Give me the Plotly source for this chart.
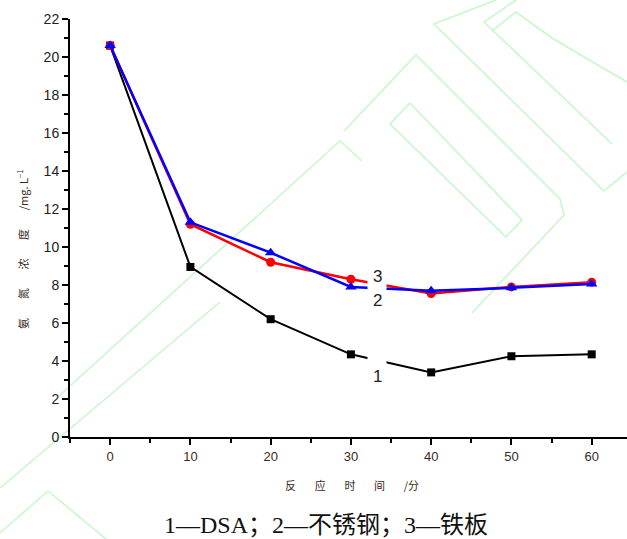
import plotly.graph_objects as go

# reaction time (min)
time_min = [0, 10, 20, 30, 40, 50, 60]

# ammonia-nitrogen concentration (mg/L) for each electrode material
conc_dsa = [20.6, 8.95, 6.2, 4.35, 3.4, 4.25, 4.35]        # 1 — DSA
conc_steel = [20.6, 11.3, 9.7, 7.9, 7.7, 7.85, 8.05]       # 2 — stainless steel
conc_iron = [20.6, 11.2, 9.2, 8.3, 7.55, 7.9, 8.15]        # 3 — iron plate

x_ticks = [0, 10, 20, 30, 40, 50, 60]
y_ticks = [0, 2, 4, 6, 8, 10, 12, 14, 16, 18, 20, 22]

GAP = "\u2003\u2002\u2009"   # wide letter spacing used in the axis titles

W, H = 627, 539
ML, MR, MT, MB = 70, 0, 19, 102
PW, PH = W - ML - MR, H - MT - MB


def to_paper(px, py):
    """Convert page pixels to paper coordinates."""
    return (px - ML) / PW, (H - MB - py) / PH


fig = go.Figure()

# faint green outline watermark in the background
watermark = [
    [(60, 395), (340, 141), (362, 161)],
    [(0, 488), (220, 302)],
    [(48, 491), (106, 539)],
    [(48, 491), (0, 533)],
    [(496, 0), (434, 24), (604, 191), (627, 172)],
    [(516, 0), (484, 22), (612, 144)],
    [(344, 131), (416, 55), (560, 199), (564, 215), (472, 313)],
    [(410, 103), (390, 124), (506, 237), (522, 220), (410, 103)],
    [(492, 31), (516, 12), (552, 38), (596, 64), (627, 82)],
]
for poly in watermark:
    pts = [to_paper(px, py) for px, py in poly]
    path = "M " + " L ".join(f"{x:.4f},{y:.4f}" for x, y in pts)
    fig.add_shape(type="path", path=path, xref="paper", yref="paper",
                  line=dict(color="#c9f7c9", width=1.6), layer="below")

fig.add_trace(go.Scatter(
    x=time_min, y=conc_dsa, mode="lines+markers",
    line=dict(color="black", width=2),
    marker=dict(symbol="square", size=8, color="black"),
))
fig.add_trace(go.Scatter(
    x=time_min, y=conc_iron, mode="lines+markers",
    line=dict(color="#ff0000", width=2.5),
    marker=dict(symbol="circle", size=9, color="#ff0000"),
))
fig.add_trace(go.Scatter(
    x=time_min, y=conc_steel, mode="lines+markers",
    line=dict(color="#0000ff", width=2.5),
    marker=dict(symbol="triangle-up", size=10, color="#0000ff"),
))

# white breaks in the curves next to the curve labels
for yv, h in [(3.95, 14), (8.05, 22)]:
    fig.add_annotation(
        x=33.25, y=yv, text="", showarrow=False, width=18, height=h,
        bgcolor="white", borderpad=0,
    )

# curve labels
for txt, yv in [("3", 8.47), ("2", 7.16), ("1", 3.2)]:
    fig.add_annotation(
        x=33.3, y=yv, text=txt, showarrow=False,
        font=dict(family="Liberation Sans, Arial", size=17, color="#222222"),
    )

# y-axis title
tx, ty = to_paper(22, 249)
fig.add_annotation(
    xref="paper", yref="paper", x=tx, y=ty,
    xanchor="center", yanchor="middle",
    text=GAP.join(["氨", "氮", "浓", "度", "/mg. L<sup>−1</sup>"]),
    textangle=-90, showarrow=False,
    font=dict(family="Noto Sans CJK SC", size=11, color="#3a2a1a"),
)
# x-axis title
tx, ty = to_paper(352, 485)
fig.add_annotation(
    xref="paper", yref="paper", x=tx, y=ty,
    xanchor="center", yanchor="middle",
    text=GAP.join(["反", "应", "时", "间", "/分"]),
    showarrow=False,
    font=dict(family="Noto Sans CJK SC", size=11, color="#3a2a1a"),
)
# caption
tx, ty = to_paper(326, 525)
fig.add_annotation(
    xref="paper", yref="paper", x=tx, y=ty,
    xanchor="center", yanchor="middle",
    text="1—DSA；2—不锈钢；3—铁板", showarrow=False,
    font=dict(family="Liberation Serif, Noto Sans CJK SC", size=24, color="#111111"),
)

fig.update_layout(
    width=W, height=H,
    margin=dict(l=ML, r=MR, t=MT, b=MB),
    paper_bgcolor="white", plot_bgcolor="white",
    showlegend=False,
    xaxis=dict(
        range=[-5, 64.4], tickvals=x_ticks, ticks="outside", ticklen=6, tickwidth=2,
        minor=dict(dtick=5, tick0=0, ticks="outside", ticklen=4, tickwidth=2, tickcolor="black"),
        showline=True, linecolor="black", linewidth=2, showgrid=False, zeroline=False,
        tickcolor="black",
        tickfont=dict(family="Liberation Sans, Arial", size=13, color="#3a2a1a"),
    ),
    yaxis=dict(
        range=[0, 22], tickvals=y_ticks, ticks="outside", ticklen=6, tickwidth=2,
        minor=dict(dtick=1, tick0=0, ticks="outside", ticklen=4, tickwidth=2, tickcolor="black"),
        showline=True, linecolor="black", linewidth=2, showgrid=False, zeroline=False,
        tickcolor="black",
        tickfont=dict(family="Liberation Sans, Arial", size=14, color="#222222"),
    ),
)

fig.write_html("out.html")
